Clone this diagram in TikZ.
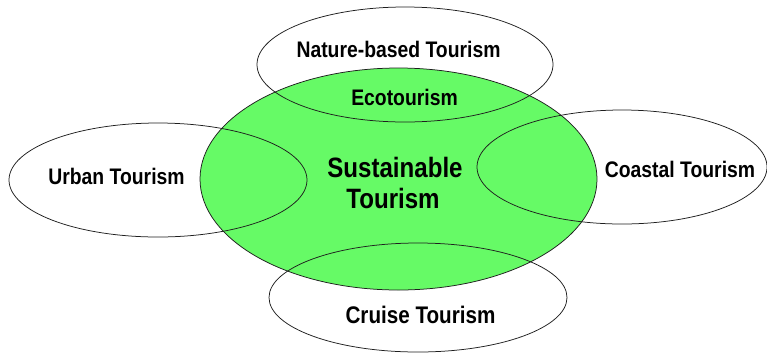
\documentclass[tikz,border=0pt]{standalone}
\usepackage{fontspec}
\newfontfamily\labfont[FakeStretch=0.86]{Liberation Sans}
\definecolor{sgreen}{RGB}{102,250,102}
\definecolor{edge}{RGB}{30,30,30}
\tikzset{
  ring/.style={draw=edge, line width=0.75pt},
  lab/.style={inner sep=0pt, anchor=base, text=black, font=\labfont\bfseries\fontsize{22.5}{25}\selectfont},
  biglab/.style={inner sep=0pt, anchor=base, text=black, font=\labfont\bfseries\fontsize{28}{31}\selectfont}
}
\begin{document}
\begin{tikzpicture}[x=1pt,y=-1pt]
\useasboundingbox (0,0) rectangle (767,357);
\fill[white] (0,0) rectangle (767,357);
% central ellipse
\draw[ring, fill=sgreen] (398.5,179) ellipse [x radius=198.5, y radius=111];
% surrounding ellipses (outline only)
\draw[ring] (405,64.5) ellipse [x radius=148, y radius=57.5];
\draw[ring] (158,180) ellipse [x radius=149, y radius=57];
\draw[ring] (622,167) ellipse [x radius=145, y radius=57];
\draw[ring] (418,297.5) ellipse [x radius=149, y radius=54.5];
% labels
\node[lab] (nature) at (398.5,57) {Nature-based Tourism};
\node[lab] (eco) at (404.5,105) {Ecotourism};
\node[lab] (urban) at (116.5,184) {Urban Tourism};
\node[lab] (coastal) at (680,177) {Coastal Tourism};
\node[lab, font=\labfont\bfseries\fontsize{24}{27}\selectfont] (cruise) at (420.5,323) {Cruise Tourism};
\node[biglab] (sust1) at (395,177) {Sustainable};
\node[biglab] (sust2) at (393,208) {Tourism};
\end{tikzpicture}
\end{document}
